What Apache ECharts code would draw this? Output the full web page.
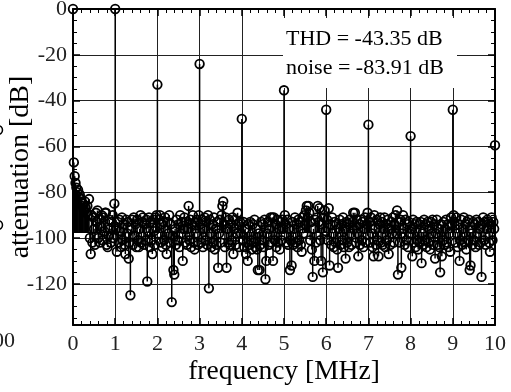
<!DOCTYPE html>
<html>
<head>
<meta charset="utf-8">
<script src="https://cdn.jsdelivr.net/npm/echarts@6/dist/echarts.min.js"></script>
<style>
  html, body { margin: 0; padding: 0; background: #fff; }
  #chart { width: 511px; height: 392px; }
</style>
</head>
<body>
<div id="chart"></div>
<script>
// spectrum of the output, dB relative to the fundamental
const binStep = 0.02; // MHz between FFT bins

// DC and harmonics at 0, 1, 2, ... 10 MHz
const harmonicDb = [0, 0, -33, -24, -48, -35.5, -44, -50.5, -55.5, -44, -59.5];

// noise bins between harmonics (m + 0.02 ... m + 0.98 MHz)
const noise0 = [-67, -73, -76, -78, -80, -79, -82,
  -81, -84, -83, -86, -85, -88, -84,
  -87, -89, -86, -90, -83, -100, -107,
  -90, -102, -91, -96, -103, -89, -93,
  -88, -100, -92, -102, -95, -90, -101,
  -91, -97, -89, -89, -103, -104, -99,
  -92, -96, -102, -93, -90, -100, -85];
const noise1 = [-96, -106, -93, -102, -92, -97, -104,
  -91, -101, -94, -103, -107, -92, -98,
  -93, -109, -102, -125, -96, -92, -103,
  -91, -99, -94, -104, -92, -101, -104,
  -96, -90, -102, -93, -91, -103, -94,
  -101, -92, -119, -97, -91, -104, -93,
  -101, -107, -92, -97, -103, -91, -90];
const noise2 = [-98, -92, -90, -102, -94, -104, -93,
  -101, -91, -103, -107, -93, -98, -90,
  -102, -94, -128, -99, -114, -116, -96,
  -103, -92, -101, -94, -104, -90, -98,
  -93, -110, -96, -91, -102, -93, -103,
  -96, -86, -101, -92, -104, -94, -90,
  -102, -105, -93, -98, -92, -103, -90];
const noise3 = [-94, -102, -92, -104, -96, -91, -101,
  -93, -103, -90, -122, -92, -98, -104,
  -94, -102, -91, -105, -96, -103, -93,
  -113, -98, -92, -102, -90, -86, -84,
  -94, -104, -91, -113, -96, -102, -92,
  -103, -94, -101, -91, -107, -96, -92,
  -103, -98, -89, -94, -104, -93, -98];
const noise4 = [-101, -93, -104, -96, -107, -102, -110,
  -94, -103, -93, -101, -105, -94, -102,
  -92, -104, -96, -105, -114, -98, -114,
  -103, -93, -101, -94, -104, -92, -118,
  -110, -98, -93, -103, -96, -91, -102,
  -91, -110, -91, -101, -94, -104, -92,
  -102, -96, -105, -93, -101, -92, -96];
const noise5 = [-90, -94, -102, -92, -103, -96, -114,
  -101, -112, -93, -103, -96, -91, -102,
  -94, -104, -92, -101, -93, -103, -106,
  -91, -98, -90, -94, -88, -86, -91,
  -86, -89, -101, -93, -105, -117, -96,
  -110, -92, -102, -91, -86, -93, -87,
  -101, -110, -94, -115, -91, -88, -97];
const noise6 = [-92, -101, -87, -112, -94, -103, -91,
  -98, -104, -93, -102, -94, -105, -113,
  -96, -92, -103, -94, -101, -91, -104,
  -96, -109, -93, -102, -94, -104, -92,
  -98, -103, -93, -89, -96, -89, -102,
  -92, -98, -108, -94, -103, -92, -101,
  -93, -104, -96, -91, -102, -94, -89];
const noise7 = [-93, -102, -91, -98, -104, -108, -90,
  -96, -103, -92, -101, -108, -94, -91,
  -102, -93, -103, -96, -91, -104, -94,
  -101, -92, -107, -96, -103, -93, -98,
  -91, -102, -94, -90, -98, -88, -116,
  -93, -102, -92, -113, -98, -90, -96,
  -103, -92, -101, -94, -104, -93, -98];
const noise8 = [-96, -108, -92, -102, -94, -104, -93,
  -101, -105, -94, -102, -93, -111, -98,
  -103, -92, -101, -94, -104, -93, -102,
  -96, -105, -93, -98, -92, -103, -94,
  -109, -98, -92, -103, -96, -104, -115,
  -94, -108, -101, -93, -103, -96, -92,
  -102, -94, -104, -98, -106, -91, -94];
const noise9 = [-90, -93, -102, -91, -98, -104, -94,
  -110, -101, -92, -103, -96, -91, -102,
  -94, -105, -93, -101, -92, -114, -112,
  -98, -103, -93, -101, -94, -104, -92,
  -98, -93, -103, -96, -102, -117, -94,
  -91, -101, -93, -103, -96, -92, -93,
  -102, -106, -94, -91, -101, -93, -96];

const stemBase = -97.5;
const xRange = [0, 10];
const yRange = [-138, 0];

const noiseSegments = [noise0, noise1, noise2, noise3, noise4, noise5, noise6, noise7, noise8, noise9];
const stemData = [];
noiseSegments.forEach((seg, m) => {
  stemData.push([m, harmonicDb[m]]);
  seg.forEach((v, k) => {
    stemData.push([+(m + (k + 1) * binStep).toFixed(2), v]);
  });
});
stemData.push([10, harmonicDb[10]]);

const serif = 'Liberation Serif, Times New Roman, serif';
const chart = echarts.init(document.getElementById('chart'));

const xBase = {
  type: 'value',
  min: xRange[0],
  max: xRange[1],
  interval: 1,
  axisLine: { onZero: false, lineStyle: { color: '#000', width: 2 } },
  axisTick: { inside: true, length: 7, lineStyle: { color: '#000', width: 1.5 } },
  minorTick: { show: true, splitNumber: 5, length: 4, lineStyle: { color: '#000', width: 1 } }
};
const yBase = {
  type: 'value',
  min: yRange[0],
  max: yRange[1],
  splitNumber: 7,
  axisLine: { onZero: false, lineStyle: { color: '#000', width: 2 } },
  axisTick: { inside: true, length: 7, lineStyle: { color: '#000', width: 1.5 } },
  minorTick: { show: true, splitNumber: 4, length: 4, lineStyle: { color: '#000', width: 1 } }
};

const option = {
  animation: false,
  backgroundColor: '#fff',
  grid: { left: 73, right: 16, top: 9, bottom: 67, containLabel: false, outerBoundsMode: 'none' },
  xAxis: [
    Object.assign({}, xBase, {
      position: 'bottom',
      splitLine: { show: true, lineStyle: { color: '#222', width: 1 } },
      axisLabel: { color: '#222', fontSize: 22, fontFamily: serif, margin: 8 },
      name: 'frequency [MHz]',
      nameLocation: 'middle',
      nameGap: 33,
      nameMoveOverlap: false,
      nameTextStyle: { color: '#000', fontSize: 27.5, fontFamily: serif }
    }),
    Object.assign({}, xBase, {
      position: 'top',
      splitLine: { show: false },
      axisLabel: { show: false }
    })
  ],
  yAxis: [
    Object.assign({}, yBase, {
      position: 'left',
      splitLine: { show: true, lineStyle: { color: '#222', width: 1 } },
      axisLabel: { color: '#222', fontSize: 22, fontFamily: serif, margin: 6, showMinLabel: false },
      name: 'attenuation [dB]',
      nameLocation: 'middle',
      nameGap: 38,
      nameMoveOverlap: false,
      nameTextStyle: { color: '#000', fontSize: 28, fontFamily: serif }
    }),
    Object.assign({}, yBase, {
      position: 'right',
      splitLine: { show: false },
      axisLabel: { show: false }
    })
  ],
  graphic: [
    { type: 'rect', z: 1, shape: { x: 283, y: 18, width: 174, height: 70 }, style: { fill: '#fff' } },
    { type: 'text', z: 10, x: 286, y: 39, style: { text: 'THD = -43.35 dB', font: '22px ' + serif, fill: '#000', verticalAlign: 'middle' } },
    { type: 'text', z: 10, x: 286, y: 68, style: { text: 'noise = -83.91 dB', font: '22px ' + serif, fill: '#000', verticalAlign: 'middle' } },
    { type: 'text', z: 10, x: 15, y: 341, style: { text: '100', font: '22px ' + serif, fill: '#222', align: 'right', verticalAlign: 'middle' } },
    { type: 'circle', z: 10, shape: { cx: -2, cy: 130, r: 4.5 }, style: { fill: 'none', stroke: '#000', lineWidth: 1.5 } },
    { type: 'circle', z: 10, shape: { cx: -2, cy: 225, r: 4.5 }, style: { fill: 'none', stroke: '#000', lineWidth: 1.5 } }
  ],
  series: [{
    type: 'custom',
    xAxisIndex: 0,
    yAxisIndex: 0,
    z: 3,
    data: stemData,
    renderItem: function (params, api) {
      const tip = api.coord([api.value(0), api.value(1)]);
      const base = api.coord([api.value(0), stemBase]);
      return {
        type: 'group',
        children: [
          { type: 'line', shape: { x1: tip[0], y1: tip[1], x2: base[0], y2: base[1] },
            style: { stroke: '#000', lineWidth: 1.5 } },
          { type: 'circle', shape: { cx: tip[0], cy: tip[1], r: 4.3 },
            style: { fill: 'none', stroke: '#000', lineWidth: 1.8 } }
        ]
      };
    },
    markLine: {
      silent: true,
      symbol: 'none',
      label: { show: false },
      lineStyle: { color: '#000', width: 1, type: 'solid' },
      data: [{ yAxis: stemBase }]
    }
  }]
};

chart.setOption(option);
</script>
</body>
</html>
